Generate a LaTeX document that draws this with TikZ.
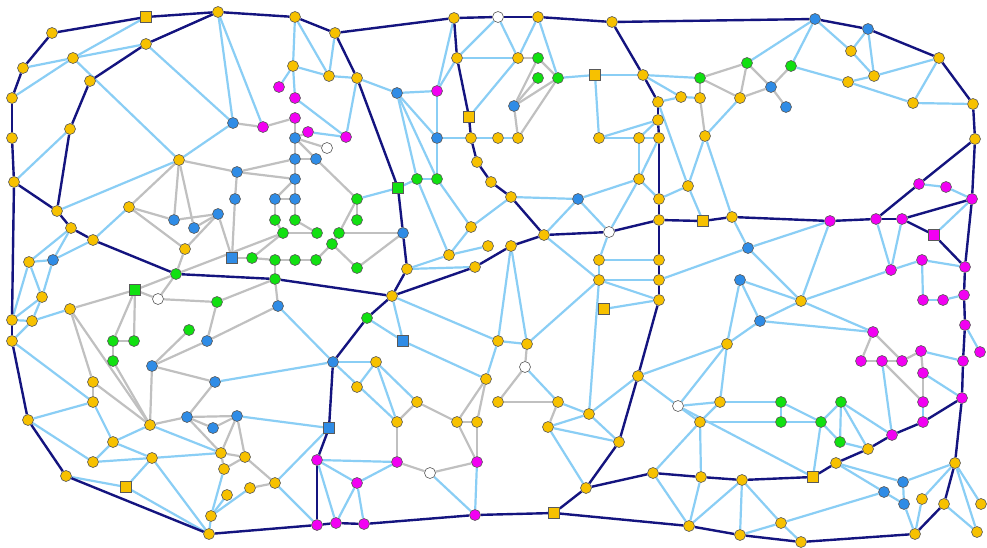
\documentclass[tikz,border=0pt]{standalone}
\usetikzlibrary{backgrounds}
\definecolor{cY}{HTML}{F7C100}
\definecolor{cB}{HTML}{2F8CE6}
\definecolor{cM}{HTML}{F200F2}
\definecolor{cG}{HTML}{11E011}
\definecolor{cLB}{HTML}{8ACEF5}
\definecolor{cGR}{HTML}{C0C0C0}
\definecolor{cDK}{HTML}{14147F}
\begin{document}
\begin{tikzpicture}[x=1pt,y=-1pt,
  nd/.style={draw=black!65,line width=0.6pt,inner sep=0pt},
  yc/.style={nd,circle,fill=cY,minimum size=11pt},
  bc/.style={nd,circle,fill=cB,minimum size=11pt},
  mc/.style={nd,circle,fill=cM,minimum size=11pt},
  gc/.style={nd,circle,fill=cG,minimum size=11pt},
  wc/.style={nd,circle,fill=white,minimum size=11pt},
  ys/.style={nd,rectangle,fill=cY,minimum size=11pt},
  bs/.style={nd,rectangle,fill=cB,minimum size=11pt},
  gs/.style={nd,rectangle,fill=cG,minimum size=11pt},
  ms/.style={nd,rectangle,fill=cM,minimum size=11pt},
  dk/.style={draw=cDK,line width=2.4pt},
  lb/.style={draw=cLB,line width=2.2pt},
  gy/.style={draw=cGR,line width=2.2pt}]
\useasboundingbox (0,0) rectangle (987,548);
\foreach \i/\x/\y in {1/52/33, 3/218/12, 4/146/44, 5/73/58, 6/23/68, 7/90/81, 8/12/98, 9/70/129, 10/12/138, 12/179/160, 14/14/182, 15/57/211, 16/71/228, 17/93/240, 18/129/207, 23/185/249, 27/29/262, 29/42/297, 30/12/320, 31/32/321, 32/12/341, 33/70/309, 44/93/382, 45/93/402, 46/28/420, 47/150/425, 51/113/442, 52/93/462, 53/152/458, 54/221/453, 55/245/457, 56/224/469, 57/66/476, 59/227/495, 60/250/488, 61/211/516, 62/209/534, 64/295/17, 65/335/33, 66/293/66, 67/329/76, 68/357/78, 82/454/18, 83/457/58, 85/471/138, 87/477/162, 88/491/182, 108/471/227, 109/449/255, 110/488/246, 111/407/269, 112/475/267, 113/392/296, 117/376/362, 118/357/387, 120/397/422, 121/417/402, 122/457/422, 123/477/422, 124/486/379, 125/498/402, 131/275/483, 137/538/17, 138/612/22, 139/518/58, 144/643/75, 146/658/102, 147/681/97, 148/700/98, 149/740/98, 151/658/120, 152/498/138, 153/518/138, 154/599/138, 155/639/138, 156/659/138, 157/705/136, 158/639/179, 159/688/186, 162/851/51, 163/874/76, 164/848/82, 165/939/58, 166/913/103, 167/973/104, 168/975/139, 175/511/197, 177/659/199, 178/544/235, 180/659/220, 182/732/217, 183/511/246, 184/599/260, 185/659/260, 186/599/280, 187/659/280, 188/659/300, 190/498/341, 191/527/344, 193/727/344, 204/801/301, 227/868/449, 228/836/463, 230/742/480, 234/922/499, 235/944/504, 236/955/463, 237/981/504, 238/977/532, 239/781/523, 240/740/535, 241/801/542, 242/915/534, 243/558/402, 244/548/427, 245/589/414, 246/638/376, 247/619/442, 248/586/488, 250/653/473, 251/701/477, 252/689/526, 254/720/402, 255/700/422}
  \node[yc] (n\i) at (\x,\y) {};
\foreach \i/\x/\y in {2/146/17, 58/126/487, 84/469/117, 143/595/75, 181/703/221, 189/604/309, 229/813/477, 249/554/513}
  \node[ys] (n\i) at (\x,\y) {};
\foreach \i/\x/\y in {11/233/123, 13/237/172, 19/174/220, 20/194/228, 21/218/214, 22/235/199, 28/53/260, 38/207/341, 42/152/366, 43/215/382, 48/187/417, 49/213/428, 50/237/416, 63/278/306, 75/295/138, 77/295/159, 78/316/159, 79/295/179, 80/397/93, 86/437/138, 92/275/199, 93/295/199, 102/403/233, 116/333/362, 150/514/106, 160/815/19, 161/868/29, 171/771/87, 172/786/107, 176/578/199, 194/740/280, 203/748/248, 205/760/321, 231/903/482, 232/884/492, 233/904/504}
  \node[bc] (n\i) at (\x,\y) {};
\foreach \i/\x/\y in {24/232/258, 115/403/341, 119/329/428}
  \node[bs] (n\i) at (\x,\y) {};
\foreach \i/\x/\y in {25/252/258, 26/176/274, 36/217/302, 37/189/330, 39/113/341, 40/134/341, 41/113/361, 90/417/179, 91/437/179, 94/357/199, 95/275/220, 96/295/220, 97/357/220, 98/283/233, 99/317/233, 100/339/233, 101/332/244, 103/275/260, 104/295/260, 105/316/260, 106/357/268, 107/275/279, 114/367/318, 140/538/58, 141/538/78, 142/558/78, 145/700/78, 169/747/63, 170/791/66, 222/781/402, 223/841/402, 224/781/422, 225/821/422, 226/840/442}
  \node[gc] (n\i) at (\x,\y) {};
\foreach \i/\x/\y in {34/135/290, 89/398/188}
  \node[gs] (n\i) at (\x,\y) {};
\foreach \i/\x/\y in {69/279/87, 70/295/98, 71/295/118, 72/263/127, 73/308/132, 74/346/137, 81/437/91, 126/317/460, 127/397/462, 129/477/462, 130/357/483, 132/317/525, 133/336/523, 134/364/524, 135/475/515, 173/919/184, 174/946/187, 195/972/199, 196/830/221, 197/876/219, 198/902/219, 200/965/267, 201/922/260, 202/891/270, 206/923/300, 207/943/300, 208/964/295, 209/965/325, 210/873/332, 211/980/352, 212/921/351, 213/963/361, 214/861/361, 215/882/361, 216/902/361, 217/923/373, 218/923/402, 219/962/398, 220/923/422, 221/892/435}
  \node[mc] (n\i) at (\x,\y) {};
\node[ms] (n199) at (934,235) {};
\foreach \i/\x/\y in {35/158/299, 76/327/148, 128/430/473, 136/498/17, 179/609/232, 192/525/367, 253/678/406}
  \node[wc] (n\i) at (\x,\y) {};
\begin{pgfonlayer}{background}
\fill[white] (0,0) rectangle (987,548);
\foreach \a/\b in {2/5, 5/6, 5/4, 5/8, 5/12, 4/11, 3/11, 9/14, 12/11, 12/15, 18/17, 16/27, 16/28, 27/28, 27/29, 28/29, 27/30, 29/30, 29/31, 30/31, 31/33, 32/31, 28/17, 3/72, 32/45, 46/45, 46/52, 45/51, 51/47, 51/52, 51/53, 52/53, 57/58, 58/62, 53/58, 53/62, 53/54, 47/54, 56/61, 61/62, 61/59, 61/60, 70/74, 73/74, 68/74, 69/66, 66/70, 64/66, 64/67, 65/67, 66/67, 67/68, 68/80, 80/81, 80/86, 80/90, 80/91, 81/86, 86/85, 86/91, 90/91, 89/90, 81/82, 81/83, 83/136, 83/139, 84/139, 85/152, 152/153, 94/89, 139/136, 139/137, 137/142, 142/143, 143/144, 143/154, 144/145, 144/147, 146/147, 147/148, 157/149, 157/159, 157/182, 146/159, 154/155, 154/151, 155/151, 155/156, 155/158, 158/156, 160/169, 160/170, 160/162, 161/162, 161/163, 162/163, 170/164, 164/163, 163/165, 164/166, 166/167, 165/166, 173/174, 174/195, 175/176, 176/178, 176/179, 176/158, 158/179, 158/177, 177/159, 159/181, 182/203, 179/184, 184/185, 186/187, 186/188, 178/186, 184/186, 183/190, 183/191, 190/191, 191/186, 186/245, 189/188, 187/203, 194/204, 194/205, 203/204, 196/203, 196/204, 204/202, 204/205, 204/210, 205/210, 202/197, 202/198, 202/201, 201/200, 201/206, 206/207, 207/208, 199/195, 209/211, 212/213, 217/219, 218/220, 215/221, 246/193, 253/193, 254/193, 193/205, 193/194, 253/254, 253/255, 254/255, 255/250, 255/251, 254/222, 255/224, 253/229, 246/253, 230/239, 230/240, 239/240, 239/241, 239/232, 228/231, 228/232, 231/236, 231/233, 232/233, 233/242, 234/242, 234/236, 236/237, 236/238, 235/238, 222/224, 222/225, 224/225, 225/223, 225/226, 223/226, 223/227, 223/221, 226/227, 225/229, 108/175, 109/111, 111/112, 109/108, 109/110, 108/91, 109/90, 113/190, 115/124, 113/115, 114/115, 116/43, 116/63, 50/119, 119/131, 131/132, 116/117, 117/118, 117/120, 117/121, 116/120, 126/127, 126/130, 126/133, 130/133, 130/134, 130/127, 128/135, 129/135, 124/190, 192/243, 243/245, 244/245, 244/247, 245/247, 245/246, 244/248, 250/252, 251/252, 252/230}
  \draw[lb] (n\a) -- (n\b);
\foreach \a/\b in {12/13, 12/18, 12/19, 12/20, 18/19, 18/23, 19/21, 20/21, 21/23, 21/24, 22/24, 13/22, 24/25, 23/26, 26/98, 11/72, 72/71, 71/75, 73/75, 75/76, 75/77, 75/78, 77/78, 77/79, 13/77, 13/79, 78/94, 79/92, 79/93, 92/93, 92/95, 93/96, 94/97, 94/100, 100/102, 100/101, 101/106, 106/102, 101/105, 25/103, 103/104, 104/105, 103/107, 98/99, 25/98, 96/99, 95/98, 26/34, 26/35, 34/35, 34/39, 34/40, 39/40, 39/41, 35/36, 36/38, 33/34, 44/45, 44/47, 33/44, 33/47, 42/47, 41/47, 42/38, 42/43, 43/48, 47/48, 48/50, 48/54, 49/50, 48/49, 50/55, 50/54, 54/55, 54/56, 55/56, 37/42, 38/63, 63/107, 36/107, 60/131, 55/131, 120/127, 121/120, 121/122, 122/124, 123/124, 122/129, 123/129, 122/123, 127/128, 128/129, 192/191, 192/125, 125/243, 243/244, 140/139, 140/142, 140/150, 141/150, 142/150, 150/153, 142/153, 145/148, 145/169, 145/149, 148/157, 169/171, 170/171, 169/149, 171/149, 171/172, 214/210, 216/210, 214/215, 215/216, 216/212, 212/217, 217/218, 215/218}
  \draw[gy] (n\a) -- (n\b);
\foreach \a/\b in {1/2, 2/3, 1/6, 6/8, 8/10, 10/14, 14/30, 30/32, 32/46, 46/57, 57/62, 62/132, 132/133, 133/134, 134/135, 135/249, 249/252, 252/240, 240/241, 241/242, 242/235, 235/236, 236/219, 219/213, 213/209, 209/208, 208/200, 200/195, 195/168, 168/167, 167/165, 165/161, 161/160, 160/138, 138/137, 137/136, 136/82, 82/65, 65/64, 64/3, 3/4, 4/7, 7/9, 9/15, 14/15, 15/16, 16/17, 17/26, 26/107, 107/113, 65/68, 68/89, 89/102, 102/111, 111/113, 113/114, 114/116, 116/119, 119/126, 126/132, 113/112, 112/183, 183/178, 178/175, 175/88, 88/87, 87/85, 85/84, 84/83, 83/82, 178/179, 179/180, 180/181, 181/182, 182/196, 196/197, 197/198, 197/173, 173/168, 198/195, 198/199, 199/200, 138/144, 144/146, 146/151, 151/156, 156/177, 177/180, 180/185, 185/187, 187/188, 188/246, 246/247, 247/248, 248/249, 248/250, 250/251, 251/230, 219/220, 220/221, 221/227, 227/228, 228/229, 229/230}
  \draw[dk] (n\a) -- (n\b);
\end{pgfonlayer}
\end{tikzpicture}
\end{document}
